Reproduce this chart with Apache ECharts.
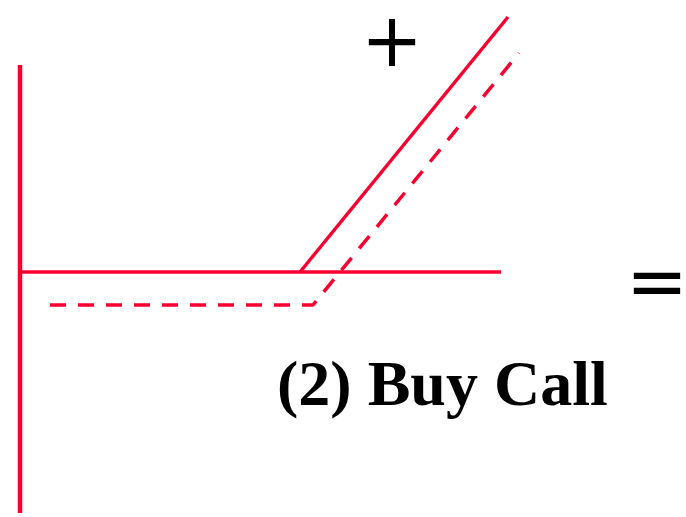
<!DOCTYPE html>
<html>
<head>
<meta charset="utf-8">
<script src="https://cdn.jsdelivr.net/npm/echarts@6/dist/echarts.min.js"></script>
<style>
  html, body { margin: 0; padding: 0; background: #fff; }
  #main { width: 686px; height: 517px; }
</style>
</head>
<body>
<div id="main"></div>
<script>
    // 坐标原点 = 竖线与横线交点
    var axisV = [[0, 207], [0, -241]];
    var axisH = [[0, 0], [481, 0]];
    var payoff = [[280, 0], [488, 255]];
    var profit = [[30, -33], [293, -33], [499, 219]];

    var red = '#fa0030';
    var myChart = echarts.init(document.getElementById('main'));
    var option = {
        animation: false,
        grid: { left: 0, right: 0, top: 0, bottom: 0 },
        xAxis: { type: 'value', min: -20, max: 666, show: false },
        yAxis: { type: 'value', min: -245, max: 272, show: false },
        series: [
            { type: 'line', data: axisV, symbol: 'none', lineStyle: { color: red, width: 4.5 } },
            { type: 'line', data: axisH, symbol: 'none', lineStyle: { color: red, width: 3.5 } },
            { type: 'line', data: payoff, symbol: 'none', lineStyle: { color: red, width: 3.5 } },
            { type: 'line', data: profit, symbol: 'none', lineStyle: { color: red, width: 3.5, type: [16, 12] } }
        ],
        graphic: [
            { type: 'text', left: 277, top: 356, style: { text: '(2) Buy Call', font: 'bold 64px "Liberation Serif"', fill: '#000' } },
            { type: 'text', x: 392, y: 47, style: { text: '+', font: '74px "DejaVu Sans"', fill: '#000', textAlign: 'center', textVerticalAlign: 'middle' } },
            { type: 'text', x: 657, y: 288, style: { text: '=', font: '74px "DejaVu Sans"', fill: '#000', textAlign: 'center', textVerticalAlign: 'middle' } }
        ]
    };
    myChart.setOption(option);
</script>
</body>
</html>
